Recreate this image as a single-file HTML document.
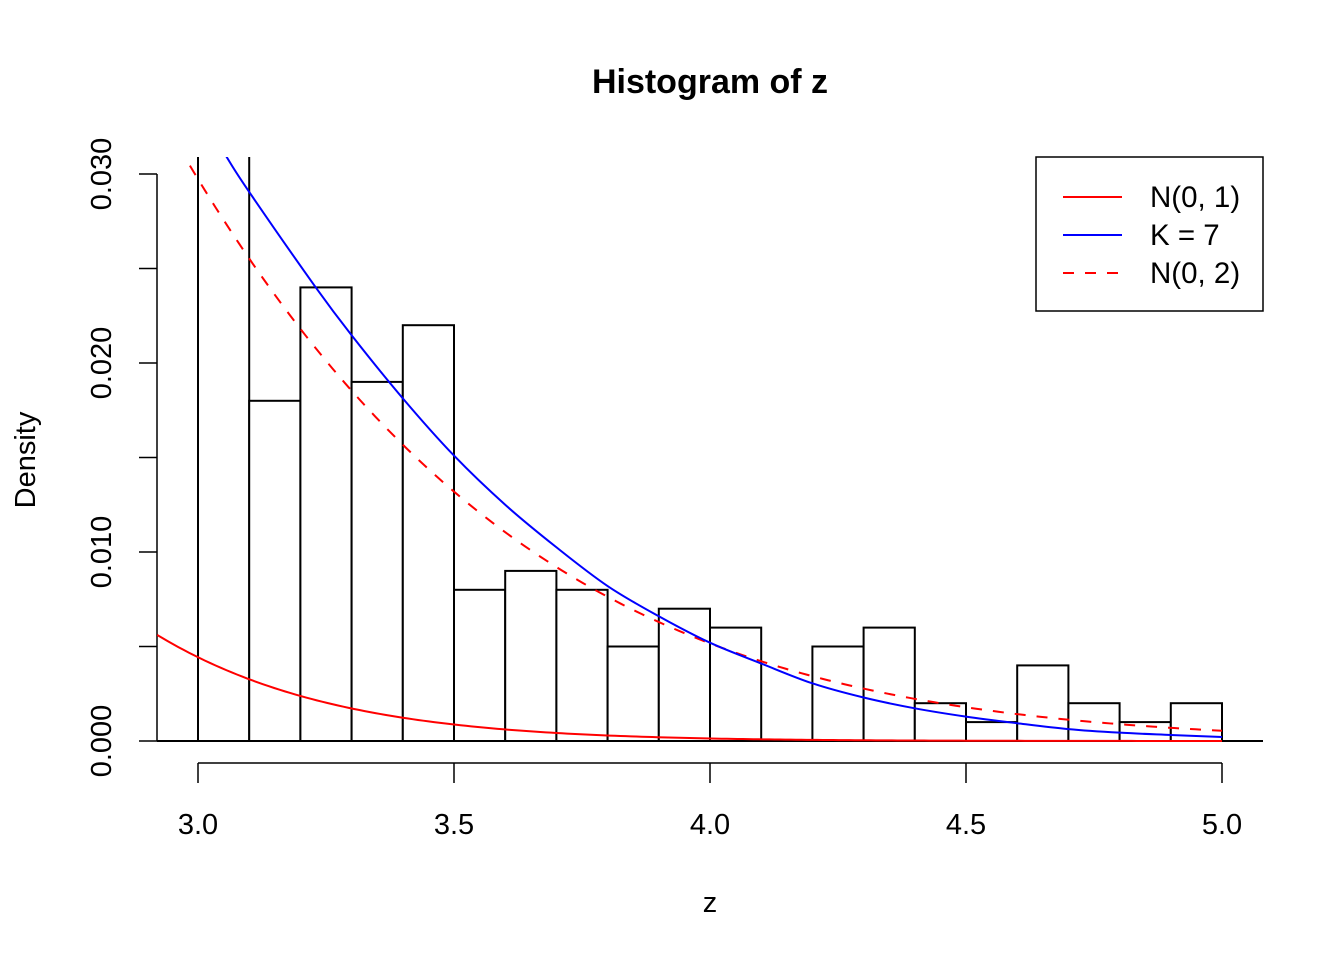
<!DOCTYPE html>
<html><head><meta charset="utf-8"><style>
body{margin:0;background:#fff}
svg{display:block;font-family:"Liberation Sans",Arial,sans-serif}
</style></head><body>
<svg id="c" width="1344" height="960" viewBox="0 0 1344 960">
<defs><clipPath id="clip"><rect x="157" y="157" width="1106" height="606"/></clipPath></defs>
<text x="710" y="93" text-anchor="middle" font-size="34" font-weight="bold">Histogram of z</text>
<text x="710" y="912" text-anchor="middle" font-size="29">z</text>
<text transform="translate(35,460) rotate(-90)" text-anchor="middle" font-size="29">Density</text>
<g id="axes"></g>
<g id="bars" clip-path="url(#clip)"></g>
<g id="curves" clip-path="url(#clip)"></g>
<g>
<rect x="1036" y="157" width="227" height="154" fill="#fff" stroke="#000" stroke-width="1.5"/>
<line x1="1063" y1="197" x2="1122" y2="197" stroke="#f00" stroke-width="2"/>
<text x="1150" y="207" font-size="29.5">N(0, 1)</text>
<line x1="1063" y1="235" x2="1122" y2="235" stroke="#f00" stroke-width="0" />
<line x1="1063" y1="235" x2="1122" y2="235" stroke="#00f" stroke-width="2"/>
<text x="1150" y="245" font-size="29.5">K = 7</text>
<line x1="1063" y1="273" x2="1122" y2="273" stroke="#f00" stroke-width="2" stroke-dasharray="11,11"/>
<text x="1150" y="283" font-size="29.5">N(0, 2)</text>
</g>
</svg>
<script>
const breaks = [3.0,3.1,3.2,3.3,3.4,3.5,3.6,3.7,3.8,3.9,4.0,4.1,4.2,4.3,4.4,4.5,4.6,4.7,4.8,4.9,5.0];
const densities = [0.06,0.018,0.024,0.019,0.022,0.008,0.009,0.008,0.005,0.007,0.006,0,0.005,0.006,0.002,0.001,0.004,0.002,0.001,0.002];
const xTicks = [3.0,3.5,4.0,4.5,5.0];
const xTickLabels = ["3.0","3.5","4.0","4.5","5.0"];
const yTicks = [0,0.005,0.01,0.015,0.02,0.025,0.03];
const yTickLabels = ["0.000","","0.010","","0.020","","0.030"];
const kZ = [3.0,3.056,3.1,3.23,3.3,3.4,3.5,3.6,3.7,3.8,3.9,4.0,4.1,4.2,4.3,4.4,4.5,4.6,4.7,4.8,4.9,5.0];
const kD = [0.0335,0.0309,0.02905,0.024,0.02147,0.01813,0.0151,0.0125,0.01025,0.0082,0.0066,0.0052,0.0041,0.00305,0.0023,0.00173,0.00129,0.00094,0.00063,0.00044,0.00032,0.00021];
const normalSds = [1, Math.SQRT2];
const curveRange = [2.92, 5.0];

const X = v => 198 + (v - 3.0) * 512;
const Y = v => 741 - v * 18900;
const NS = "http://www.w3.org/2000/svg";
function mk(tag, attrs, parent){const e=document.createElementNS(NS,tag);for(const k in attrs)e.setAttribute(k,attrs[k]);parent.appendChild(e);return e;}
const axes=document.getElementById('axes'), bars=document.getElementById('bars'), curves=document.getElementById('curves');

let xa=mk('line',{x1:X(xTicks[0]),y1:763,x2:X(xTicks[xTicks.length-1]),y2:763,stroke:'#000','stroke-width':1.5},axes);


xTicks.forEach((t,i)=>{
  mk('line',{x1:X(t),y1:763,x2:X(t),y2:783,stroke:'#000','stroke-width':1.5},axes);
  const tx=mk('text',{x:X(t),y:834,'text-anchor':'middle','font-size':29},axes);
  tx.textContent=xTickLabels[i];
  
  
});
let ya=mk('line',{x1:157,y1:Y(yTicks[0]),x2:157,y2:Y(yTicks[yTicks.length-1]),stroke:'#000','stroke-width':1.5},axes);


yTicks.forEach((t,i)=>{
  mk('line',{x1:139,y1:Y(t),x2:157,y2:Y(t),stroke:'#000','stroke-width':1.5},axes);
  if(yTickLabels[i]){
    const tx=mk('text',{transform:`translate(111,${Y(t)}) rotate(-90)`,'text-anchor':'middle','font-size':29},axes);
    tx.textContent=yTickLabels[i];
    
    
  }
});
densities.forEach((d,i)=>{
  const x0=X(breaks[i]), x1=X(breaks[i+1]);
  const r=mk('rect',{x:x0,y:Y(d),width:x1-x0,height:Y(0)-Y(d),fill:'#fff',stroke:'#000','stroke-width':2},bars);
  
  
});
mk('line',{x1:157,y1:741,x2:1263,y2:741,stroke:'#000','stroke-width':2},bars);
function normPath(sd){
  let p='';
  for(let i=0;i<=200;i++){
    const z=curveRange[0]+(curveRange[1]-curveRange[0])*i/200;
    const d=Math.exp(-z*z/(2*sd*sd))/(sd*Math.sqrt(2*Math.PI));
    p+=(i?'L':'M')+X(z).toFixed(2)+','+Y(d).toFixed(2);
  }
  return p;
}
let n1=mk('path',{d:normPath(normalSds[0]),fill:'none',stroke:'#f00','stroke-width':2},curves);


let n2=mk('path',{d:normPath(normalSds[1]),fill:'none',stroke:'#f00','stroke-width':2,'stroke-dasharray':'11,11'},curves);


const pts=kZ.map((z,i)=>[X(z),Y(kD[i])]);
let kp='M'+pts[0][0]+','+pts[0][1];
for(let i=0;i<pts.length-1;i++){
  const p0=pts[Math.max(0,i-1)],p1=pts[i],p2=pts[i+1],p3=pts[Math.min(pts.length-1,i+2)];
  const c1=[p1[0]+(p2[0]-p0[0])/6,p1[1]+(p2[1]-p0[1])/6];
  const c2=[p2[0]-(p3[0]-p1[0])/6,p2[1]-(p3[1]-p1[1])/6];
  kp+=`C${c1[0]},${c1[1]} ${c2[0]},${c2[1]} ${p2[0]},${p2[1]}`;
}
let kc=mk('path',{d:kp,fill:'none',stroke:'#00f','stroke-width':2},curves);


</script>
</body></html>
